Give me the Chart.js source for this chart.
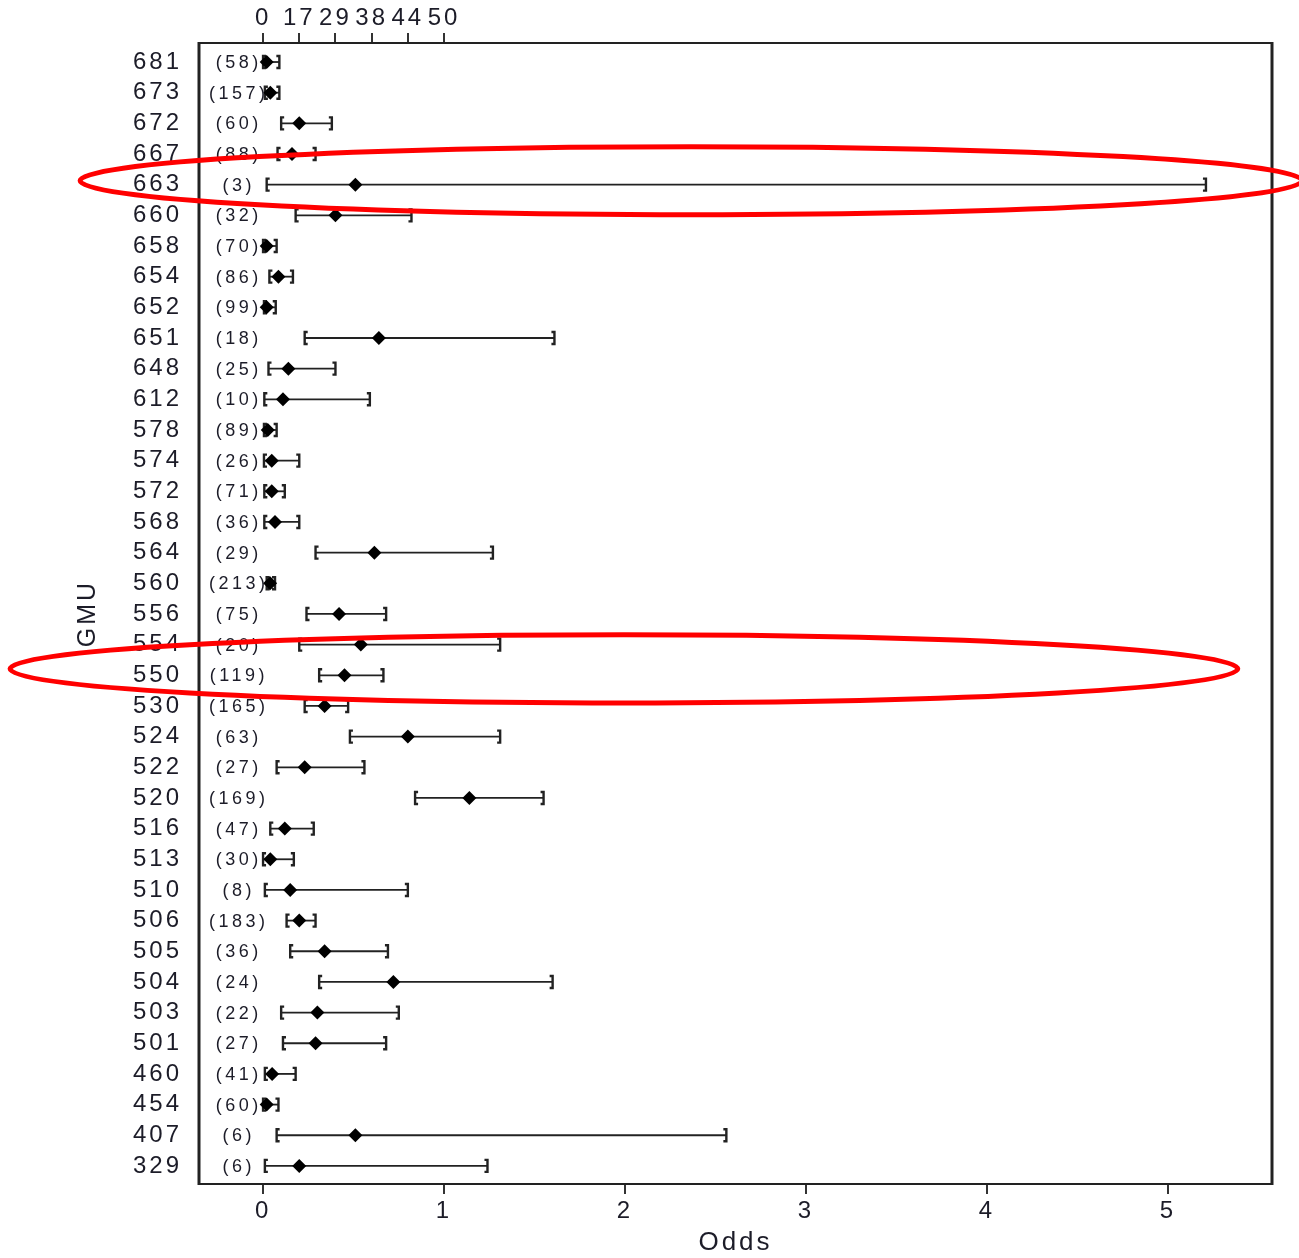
<!DOCTYPE html>
<html>
<head>
<meta charset="utf-8">
<script src="https://cdn.jsdelivr.net/npm/chart.js@4.4.1/dist/chart.umd.min.js"></script>
<style>
  html, body { margin: 0; padding: 0; background: #fff; }
  #wrap { width: 1299px; height: 1258px; }
</style>
</head>
<body>
<div id="wrap"><canvas id="forest" width="1299" height="1258"></canvas></div>
<script>
// GMU rows, top to bottom
const gmu = ['681', '673', '672', '667', '663', '660', '658', '654', '652', '651', '648', '612',
    '578', '574', '572', '568', '564', '560', '556', '554', '550', '530', '524', '522', '520',
    '516', '513', '510', '506', '505', '504', '503', '501', '460', '454', '407', '329'];
const counts = [58, 157, 60, 88, 3, 32, 70, 86, 99, 18, 25, 10, 89, 26, 71, 36, 29, 213, 75, 20,
    119, 165, 63, 27, 169, 47, 30, 8, 183, 36, 24, 22, 27, 41, 60, 6, 6];
const odds = [0.02, 0.04, 0.20, 0.16, 0.51, 0.40, 0.02, 0.085, 0.02, 0.64, 0.14, 0.11, 0.026,
    0.048, 0.048, 0.066, 0.615, 0.039, 0.42, 0.54, 0.45, 0.34, 0.80, 0.23, 1.14, 0.12, 0.04,
    0.15, 0.20, 0.34, 0.72, 0.30, 0.29, 0.05, 0.02, 0.51, 0.20];
const lower = [0.0, 0.01, 0.10, 0.08, 0.02, 0.18, 0.0, 0.035, 0.005, 0.23, 0.03, 0.007, 0.005,
    0.005, 0.007, 0.007, 0.29, 0.02, 0.24, 0.20, 0.31, 0.23, 0.48, 0.075, 0.84, 0.04, 0.0,
    0.01, 0.13, 0.15, 0.31, 0.10, 0.11, 0.01, 0.0, 0.075, 0.01];
const upper = [0.09, 0.09, 0.38, 0.29, 5.21, 0.82, 0.075, 0.165, 0.07, 1.61, 0.40, 0.59, 0.075,
    0.20, 0.12, 0.20, 1.27, 0.066, 0.68, 1.31, 0.665, 0.47, 1.31, 0.56, 1.55, 0.28, 0.17,
    0.80, 0.29, 0.69, 1.60, 0.75, 0.68, 0.18, 0.085, 2.56, 1.24];

// axis ticks
const bottomTicks = [0, 1, 2, 3, 4, 5];
const topTicks = [0, 0.2, 0.4, 0.6, 0.8, 1.0];
const topLabels = ['0', '17', '29', '38', '44', '50'];

// rows circled in red
const circledRows = ['663', '550'];

const FONT = "'Liberation Sans', Arial, sans-serif";
const TEXT = '#1c1c28';
const X_MIN = -0.354, X_MAX = 5.575;

// ellipse geometry in data units (centre offset, half widths)
const ellipseStyle = {
    '663': { cx: 2.365, dy: -0.13, rx: 3.376, ry: 1.11 },
    '550': { cx: 1.994, dy: -0.21, rx: 3.392, ry: 1.11 }
};

const spacing = {
    id: 'spacing',
    beforeDraw(chart) { chart.ctx.letterSpacing = '3px'; }
};

const frame = {
    id: 'frame',
    beforeDatasetsDraw(chart) {
        const { ctx, chartArea: a } = chart;
        ctx.save();
        ctx.strokeStyle = '#222';
        ctx.lineWidth = 2;
        ctx.beginPath();
        ctx.moveTo(a.left, a.top); ctx.lineTo(a.right, a.top);
        ctx.moveTo(a.left, a.bottom); ctx.lineTo(a.right, a.bottom);
        ctx.stroke();
        ctx.lineWidth = 3;
        ctx.beginPath();
        ctx.moveTo(a.left, a.top - 1); ctx.lineTo(a.left, a.bottom + 1);
        ctx.moveTo(a.right, a.top - 1); ctx.lineTo(a.right, a.bottom + 1);
        ctx.stroke();
        ctx.restore();
    }
};

const intervals = {
    id: 'intervals',
    beforeDatasetsDraw(chart) {
        const { ctx, scales: { x, y } } = chart;
        ctx.save();
        ctx.strokeStyle = '#222';
        gmu.forEach((g, i) => {
            const py = y.getPixelForValue(i);
            const x0 = x.getPixelForValue(lower[i]);
            const x1 = x.getPixelForValue(upper[i]);
            ctx.lineWidth = 1.8;
            ctx.beginPath();
            ctx.moveTo(x0, py); ctx.lineTo(x1, py);
            ctx.stroke();
            ctx.lineWidth = 2.4;
            ctx.beginPath();
            ctx.moveTo(x0 + 3, py - 6); ctx.lineTo(x0, py - 6); ctx.lineTo(x0, py + 6); ctx.lineTo(x0 + 3, py + 6);
            ctx.moveTo(x1 - 3, py - 6); ctx.lineTo(x1, py - 6); ctx.lineTo(x1, py + 6); ctx.lineTo(x1 - 3, py + 6);
            ctx.stroke();
            // sample size
            ctx.fillStyle = TEXT;
            ctx.font = '18px ' + FONT;
            ctx.letterSpacing = '3.5px';
            ctx.textAlign = 'center';
            ctx.textBaseline = 'middle';
            ctx.fillText('(' + counts[i] + ')', x.getPixelForValue(-0.145) + 2, py + 1);
        });
        ctx.restore();
    }
};

const ellipses = {
    id: 'ellipses',
    afterDraw(chart) {
        const { ctx, scales: { x, y } } = chart;
        ctx.save();
        ctx.strokeStyle = '#ff0000';
        ctx.lineWidth = 5;
        circledRows.forEach(g => {
            const e = ellipseStyle[g];
            const row = gmu.indexOf(g) + e.dy;
            const cx = x.getPixelForValue(e.cx);
            const cy = y.getPixelForValue(row);
            const rx = x.getPixelForValue(e.cx + e.rx) - cx;
            const ry = Math.abs(y.getPixelForValue(row + e.ry) - cy);
            ctx.beginPath();
            ctx.ellipse(cx, cy, rx, ry, 0, 0, Math.PI * 2);
            ctx.stroke();
        });
        ctx.restore();
    }
};

const tickFont = { family: FONT, size: 24 };

new Chart(document.getElementById('forest'), {
    type: 'scatter',
    data: {
        datasets: [{
            data: odds.map((v, i) => ({ x: v, y: i })),
            pointStyle: 'rectRot',
            pointRadius: 7,
            backgroundColor: '#000',
            borderColor: '#000',
            borderWidth: 0
        }]
    },
    options: {
        responsive: false,
        animation: false,
        layout: { padding: { left: 0, right: 27, top: 0, bottom: 0 } },
        plugins: {
            legend: { display: false },
            tooltip: { enabled: false }
        },
        scales: {
            x: {
                type: 'linear',
                position: 'bottom',
                min: X_MIN,
                max: X_MAX,
                afterBuildTicks: s => { s.ticks = bottomTicks.map(v => ({ value: v })); },
                afterFit: s => { s.height = 74; },
                ticks: { font: tickFont, color: TEXT, padding: 3, maxRotation: 0, callback: v => String(v) },
                grid: { drawOnChartArea: false, drawTicks: true, tickLength: 10, color: '#333', lineWidth: 2 },
                border: { display: false },
                title: { display: true, text: 'Odds', color: TEXT, font: { family: FONT, size: 26 }, padding: 0 }
            },
            x2: {
                type: 'linear',
                position: 'top',
                min: X_MIN,
                max: X_MAX,
                afterBuildTicks: s => { s.ticks = topTicks.map(v => ({ value: v })); },
                afterFit: s => { s.height = 43; },
                ticks: {
                    font: tickFont, color: TEXT, padding: 0, maxRotation: 0, autoSkip: false,
                    callback: v => topLabels[topTicks.indexOf(v)]
                },
                grid: { drawOnChartArea: false, drawTicks: true, tickLength: 10, color: '#333', lineWidth: 2 },
                border: { display: false }
            },
            y: {
                type: 'linear',
                reverse: true,
                min: -0.62,
                max: 36.59,
                afterBuildTicks: s => { s.ticks = gmu.map((g, i) => ({ value: i })); },
                afterFit: s => { s.width = 199; },
                ticks: { font: tickFont, color: TEXT, padding: 9, autoSkip: false, callback: v => gmu[v] },
                grid: { display: false },
                border: { display: false },
                title: { display: true, text: 'GMU', color: TEXT, font: { family: FONT, size: 25 }, padding: { top: 73 } }
            }
        }
    },
    plugins: [spacing, frame, intervals, ellipses]
});
</script>
</body>
</html>
